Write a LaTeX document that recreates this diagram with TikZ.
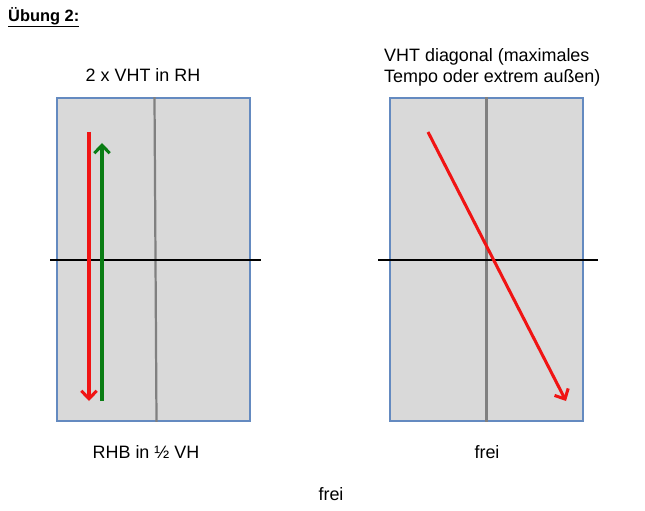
\documentclass[tikz,border=0pt]{standalone}
\usepackage{fontspec}
\setmainfont{Liberation Sans}
\usetikzlibrary{positioning,arrows.meta}
\definecolor{fieldgray}{RGB}{217,217,217}
\definecolor{fieldblue}{RGB}{100,138,192}
\definecolor{midgray}{RGB}{128,128,128}
\definecolor{runred}{RGB}{240,20,20}
\definecolor{rungreen}{RGB}{10,125,20}

\begin{document}
\begin{tikzpicture}[x=0.03cm, y=-0.03cm,
    field/.style={draw=fieldblue, fill=fieldgray, line width=1.4pt,
                  minimum width=5.79cm, minimum height=9.69cm, inner sep=0pt},
    midline/.style={draw=midgray, line width=1.9pt},
    crossline/.style={draw=black, line width=1.5pt},
    run/.style={line width=2.6pt, -{Straight Barb[length=2.4mm,width=4.6mm,line width=2.6pt]}},
    label/.style={font=\fontsize{15.3}{18}\selectfont, inner sep=0pt}]

\useasboundingbox (0,0) rectangle (645,511);

% title
\node[anchor=west, inner sep=0pt, font=\fontsize{14}{16}\selectfont\bfseries] (title)
  at (8,17) {\underline{Übung 2:}};

% left field
\node[field] (left) at (153.5,259.5) {};
\draw[midline] ([xshift=0.03cm]left.north) -- ([xshift=0.09cm]left.south);
\coordinate (lw) at (50,260);
\coordinate (le) at (261,260);
\draw[crossline] (lw) -- (le);

\coordinate (redtop) at (89,132);
\coordinate (redbot) at (89,401);
\coordinate (greenbot) at (102,401);
\coordinate (greentop) at (102,143);
\draw[run, runred] (redtop) -- (redbot);
\draw[run, rungreen] (greenbot) -- (greentop);

\node[label] (lefthead) at (143,75) {2 x VHT in RH};
\node[label] (leftfoot) at (146,452) {RHB in ½ VH};

% right field
\node[field] (right) at (486.5,259.5) {};
\draw[midline] (right.north) -- (right.south);
\coordinate (rw) at (378,260);
\coordinate (re) at (598,260);
\draw[crossline] (rw) -- (re);

\coordinate (diagtop) at (428,132);
\coordinate (diagbot) at (566,401);
\draw[run, runred] (diagtop) -- (diagbot);

\node[label, anchor=west, align=left] (righthead) at (384,67)
  {VHT diagonal (maximales\\Tempo oder extrem außen)};
\node[label] (rightfoot) at (487,452) {frei};

\node[label] (bottom) at (331,494) {frei};
\end{tikzpicture}
\end{document}
